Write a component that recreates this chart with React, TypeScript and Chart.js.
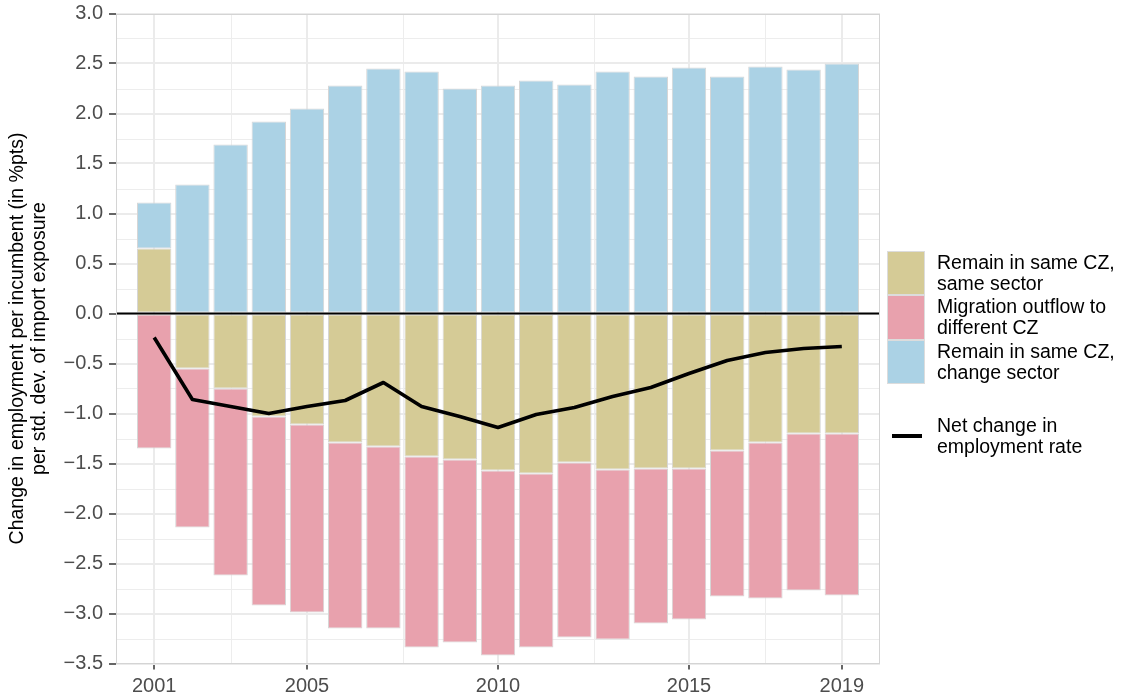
import React, { useEffect, useRef } from 'react';
import { Chart, registerables } from 'chart.js';

Chart.register(...registerables);

// ---------- data ----------
const years = [2001, 2002, 2003, 2004, 2005, 2006, 2007, 2008, 2009, 2010, 2011, 2012, 2013, 2014, 2015, 2016, 2017, 2018, 2019];
const sameSector = [0.65, -0.55, -0.75, -1.03, -1.11, -1.29, -1.33, -1.43, -1.46, -1.57, -1.6, -1.49, -1.56, -1.55, -1.55, -1.37, -1.29, -1.2, -1.2];
const migration = [-1.35, -1.59, -1.87, -1.89, -1.88, -1.86, -1.82, -1.91, -1.83, -1.85, -1.74, -1.75, -1.7, -1.55, -1.51, -1.46, -1.56, -1.57, -1.62];
const changeSector = [0.46, 1.29, 1.69, 1.92, 2.05, 2.28, 2.45, 2.42, 2.25, 2.28, 2.33, 2.29, 2.42, 2.37, 2.46, 2.37, 2.47, 2.44, 2.5];
const netChange = [-0.24, -0.86, -0.93, -1.0, -0.93, -0.87, -0.69, -0.93, -1.03, -1.14, -1.01, -0.94, -0.83, -0.74, -0.6, -0.47, -0.39, -0.35, -0.33];

const xTickYears = [2001, 2005, 2010, 2015, 2019];
const xMinorYears = [2003, 2007.5, 2012.5, 2017];
const yMinorValues = [2.75, 2.25, 1.75, 1.25, 0.75, 0.25, -0.25, -0.75, -1.25, -1.75, -2.25, -2.75, -3.25];

const yTitle = ['Change in employment per incumbent (in %pts)', 'per std. dev. of import exposure'];
const seriesLabels = ['Remain in same CZ,\nsame sector', 'Migration outflow to\ndifferent CZ', 'Remain in same CZ,\nchange sector'];
const lineLabel = 'Net change in\nemployment rate';

const COLORS = {
  same: '#D5CB96',
  migr: '#E8A1AD',
  change: '#ABD2E5',
};

const FONT = "'Liberation Sans', Arial, Helvetica, sans-serif";

const panelPlugin = {
  id: 'panelPlugin',
  beforeDraw(chart: any) {
    const { ctx, chartArea: a, scales } = chart;
    const x = scales.x;
    const y = scales.y;
    ctx.save();
    ctx.strokeStyle = '#ededed';
    ctx.lineWidth = 1;
    xMinorYears.forEach((v) => {
      const px = Math.round(x.getPixelForValue(v)) + 0.5;
      ctx.beginPath();
      ctx.moveTo(px, a.top);
      ctx.lineTo(px, a.bottom);
      ctx.stroke();
    });
    yMinorValues.forEach((v) => {
      const py = Math.round(y.getPixelForValue(v)) + 0.5;
      ctx.beginPath();
      ctx.moveTo(a.left, py);
      ctx.lineTo(a.right, py);
      ctx.stroke();
    });
    ctx.restore();
  },
  afterDatasetsDraw(chart: any) {
    const { ctx, chartArea: a, scales } = chart;
    const y = scales.y;
    ctx.save();
    const py = y.getPixelForValue(0);
    ctx.strokeStyle = '#000';
    ctx.lineWidth = 2;
    ctx.beginPath();
    ctx.moveTo(a.left, py);
    ctx.lineTo(a.right, py);
    ctx.stroke();
    ctx.strokeStyle = '#d4d4d4';
    ctx.lineWidth = 1;
    ctx.strokeRect(Math.round(a.left) + 0.5, Math.round(a.top) + 0.5, Math.round(a.right - a.left) - 1, Math.round(a.bottom - a.top) - 1);
    ctx.restore();
  },
};

function pts(vals: number[]) {
  return years.map((yr, i) => ({ x: yr, y: vals[i] }));
}

export default function App() {
  const canvasRef = useRef<HTMLCanvasElement | null>(null);

  useEffect(() => {
    if (!canvasRef.current) return;
    const barCommon = {
      borderColor: '#d6d6d6',
      borderWidth: 1,
      borderSkipped: false,
      barPercentage: 0.9,
      categoryPercentage: 1.0,
      stack: 'bars',
      order: 2,
    };
    const chart = new Chart(canvasRef.current, {
      type: 'bar',
      data: {
        datasets: [
          { ...barCommon, label: seriesLabels[0], data: pts(sameSector), backgroundColor: COLORS.same } as any,
          { ...barCommon, label: seriesLabels[1], data: pts(migration), backgroundColor: COLORS.migr } as any,
          { ...barCommon, label: seriesLabels[2], data: pts(changeSector), backgroundColor: COLORS.change } as any,
          {
            type: 'line',
            label: lineLabel,
            data: pts(netChange),
            borderColor: '#000',
            borderWidth: 3.6,
            pointRadius: 0,
            tension: 0,
            fill: false,
            stack: 'net',
            order: 0,
            borderJoinStyle: 'round',
            borderCapStyle: 'butt',
          } as any,
        ],
      },
      options: {
        animation: false,
        responsive: true,
        maintainAspectRatio: false,
        layout: { padding: { top: 13.5, right: 242, left: 0, bottom: 0 } },
        plugins: {
          legend: { display: false },
          tooltip: { enabled: false },
        },
        scales: {
          x: {
            type: 'linear',
            min: 2000,
            max: 2020,
            stacked: true,
            offset: false,
            afterBuildTicks: (s: any) => {
              s.ticks = xTickYears.map((v) => ({ value: v }));
            },
            afterFit: (s: any) => {
              s.height = 36.5;
            },
            grid: {
              offset: false,
              color: '#ebebeb',
              lineWidth: 2,
              tickColor: '#333333',
              tickLength: 6,
              tickWidth: 1.5,
              drawTicks: true,
            },
            border: { display: false },
            ticks: {
              autoSkip: false,
              maxRotation: 0,
              padding: 7,
              color: '#4d4d4d',
              font: { family: FONT, size: 20, lineHeight: 1 },
              callback: (v: any) => String(v),
            },
          },
          y: {
            type: 'linear',
            min: -3.5,
            max: 3.0,
            stacked: true,
            afterBuildTicks: (s: any) => {
              const t = [];
              for (let k = -7; k <= 6; k++) t.push({ value: k * 0.5 });
              s.ticks = t;
            },
            afterFit: (s: any) => {
              s.width = 116;
              s.paddingTop = 0;
              s.paddingBottom = 0;
            },
            grid: {
              color: '#ebebeb',
              lineWidth: 2,
              tickColor: '#333333',
              tickLength: 7,
              tickWidth: 1.5,
              drawTicks: true,
            },
            border: { display: false },
            ticks: {
              padding: 6,
              color: '#4d4d4d',
              font: { family: FONT, size: 20, lineHeight: 1 },
              callback: (v: any) => {
                const n = Number(v);
                return (n < 0 ? '\u2212' : '') + Math.abs(n).toFixed(1);
              },
            },
            title: {
              display: true,
              text: yTitle,
              color: '#000',
              font: { family: FONT, size: 19.5, lineHeight: '22px' },
              padding: { top: 7, bottom: 0 },
            },
          },
        },
      } as any,
      plugins: [panelPlugin],
    });
    return () => chart.destroy();
  }, []);

  const legendColors = [COLORS.same, COLORS.migr, COLORS.change];
  const itemH = 44.3;

  return (
    <div style={{ position: 'absolute', left: 0, top: 0, width: 1122, height: 700, background: '#fff' }}>
      <canvas ref={canvasRef} />
      <div style={{ position: 'absolute', left: 887, top: 251, fontFamily: FONT, fontSize: 19.5, color: '#000' }}>
        {seriesLabels.map((lab, i) => (
          <React.Fragment key={i}>
            <div
              style={{
                position: 'absolute',
                left: 0,
                top: i * itemH,
                width: 38,
                height: itemH,
                background: legendColors[i],
                border: '1px solid #dcdcdc',
                boxSizing: 'border-box',
              }}
            />
            <div
              style={{
                position: 'absolute',
                left: 50,
                top: i * itemH,
                height: itemH,
                display: 'flex',
                alignItems: 'center',
                whiteSpace: 'pre',
                lineHeight: '21px',
              }}
            >
              {lab}
            </div>
          </React.Fragment>
        ))}
        <div style={{ position: 'absolute', left: 5, top: 183, width: 30, height: 4, background: '#000' }} />
        <div
          style={{
            position: 'absolute',
            left: 50,
            top: 163,
            height: 44,
            display: 'flex',
            alignItems: 'center',
            whiteSpace: 'pre',
            lineHeight: '21px',
          }}
        >
          {lineLabel}
        </div>
      </div>
    </div>
  );
}
